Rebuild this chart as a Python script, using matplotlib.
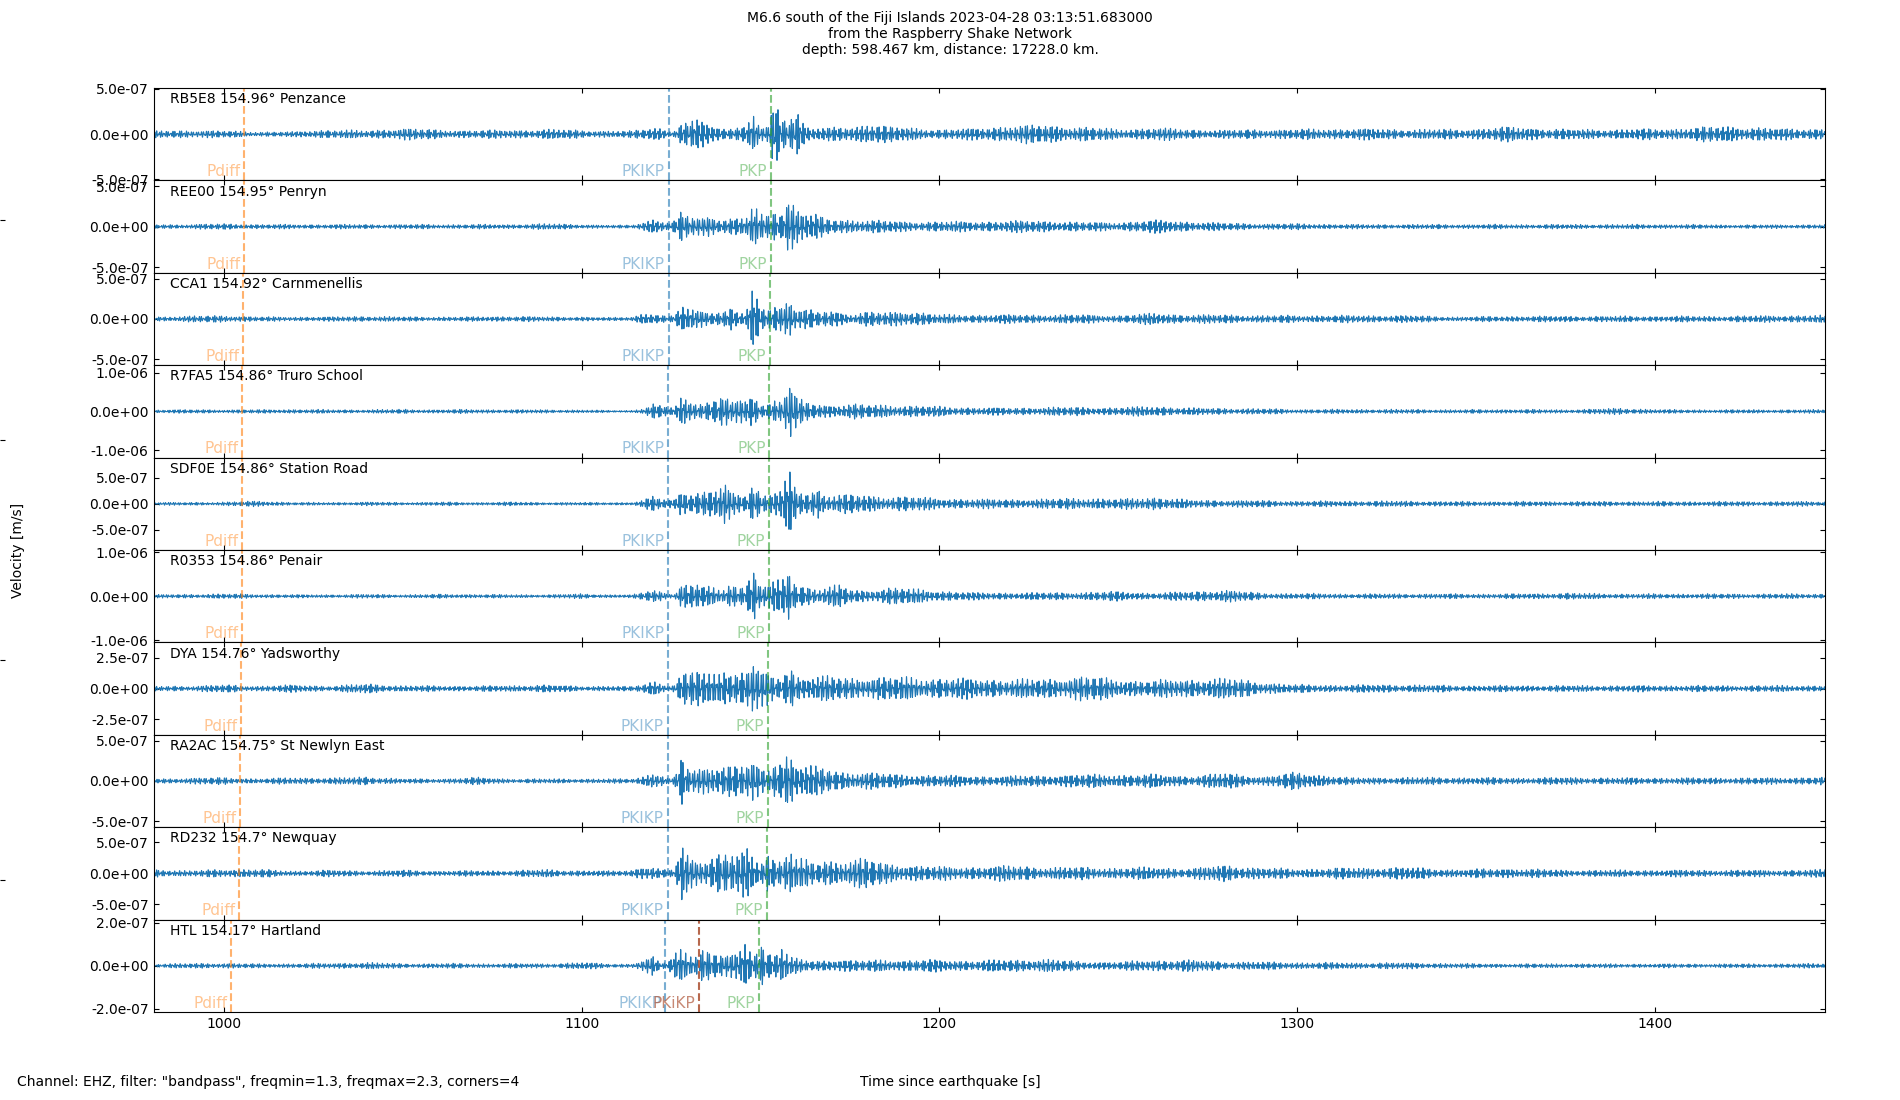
import numpy as np
import matplotlib as mpl
mpl.use('Agg')
import matplotlib.pyplot as plt
import matplotlib.transforms as mtransforms
from matplotlib.ticker import FormatStrFormatter

plt.rcParams['font.size'] = 10
plt.rcParams['xtick.direction'] = 'in'
plt.rcParams['ytick.direction'] = 'in'

title_text = ('M6.6 south of the Fiji Islands 2023-04-28 03:13:51.683000\n'
              'from the Raspberry Shake Network\n'
              'depth: 598.467 km, distance: 17228.0 km.')
filter_text = 'Channel: EHZ, filter: "bandpass", freqmin=1.3, freqmax=2.3, corners=4'

stations = ['RB5E8', 'REE00', 'CCA1', 'R7FA5', 'SDF0E',
            'R0353', 'DYA', 'RA2AC', 'RD232', 'HTL']
distances = ['154.96', '154.95', '154.92', '154.86', '154.86',
             '154.86', '154.76', '154.75', '154.7', '154.17']
places = ['Penzance', 'Penryn', 'Carnmenellis', 'Truro School', 'Station Road',
          'Penair', 'Yadsworthy', 'St Newlyn East', 'Newquay', 'Hartland']

# axis half-range and tick step per station [m/s]
vel_limits = [5.1e-7, 5.7e-7, 5.77e-7, 1.19e-6, 8.9e-7,
              1.05e-6, 3.76e-7, 5.75e-7, 7.43e-7, 2.15e-7]
tick_steps = [5e-7, 5e-7, 5e-7, 1e-6, 5e-7, 1e-6, 2.5e-7, 5e-7, 5e-7, 2e-7]

# predicted arrivals [s since origin]
pdiff_times = [1005.6, 1005.5, 1005.3, 1005.0, 1005.0, 1005.0, 1004.7, 1004.6, 1004.3, 1001.9]
pkikp_times = [1124.3, 1124.3, 1124.3, 1124.2, 1124.2, 1124.1, 1124.0, 1124.0, 1124.0, 1123.2]
pkp_times = [1152.9, 1152.8, 1152.6, 1152.4, 1152.3, 1152.3, 1152.1, 1152.0, 1151.8, 1149.6]
pkikp_small_times = [None, None, None, None, None, None, None, None, None, 1132.8]

t_start, t_end = 980.3, 1447.6

# envelope knots [s] and envelope amplitudes [1e-8 m/s]
knot_times = [980, 990, 1000, 1010, 1020, 1030, 1040, 1050, 1060, 1070, 1080, 1090, 1100,
              1108, 1114, 1117,
              1120, 1122, 1124, 1126, 1128, 1130, 1132, 1134, 1136, 1138, 1140, 1142, 1144,
              1146, 1148, 1150, 1152, 1154, 1156, 1158, 1160, 1162, 1164, 1166, 1168,
              1172, 1176, 1180, 1185, 1190,
              1200, 1210, 1220, 1230, 1240, 1250, 1260, 1270, 1280, 1290, 1300,
              1315, 1330, 1345, 1360, 1375, 1390, 1405, 1420, 1435, 1450]

env_RB5E8 = [4, 5, 4, 3, 3, 6, 4, 8, 5, 5, 5, 6, 5,
             4, 4, 6,
             9, 8, 4, 5, 15, 12, 19, 19, 10, 8, 8, 10, 10,
             9, 25, 9, 9, 39, 23, 23, 34, 15, 8, 8, 7,
             9, 8, 15, 10, 8,
             6, 7, 11, 11, 9, 6, 8, 6, 5, 6, 6,
             7, 6, 6, 9, 6, 6, 7, 10, 7, 7]
env_REE00 = [3, 3, 4, 3, 3, 3, 3, 3, 3, 3, 3, 4, 3,
             2, 2, 6,
             11, 9, 6, 8, 20, 14, 14, 13, 16, 12, 12, 12, 11,
             12, 32, 16, 16, 27, 22, 43, 29, 22, 16, 16, 11,
             10, 10, 9, 8, 7,
             7, 7, 8, 8, 6, 6, 9, 7, 5, 4, 4,
             3, 3, 3, 3, 3, 3, 3, 2.5, 2.5, 3]
env_CCA1 = [3, 4, 5, 3, 3, 3, 4, 3, 3, 3, 4, 3, 3,
            2, 3, 8,
            8, 6, 3, 5, 21, 15, 13, 15, 12, 10, 10, 17, 8,
            9, 43, 19, 19, 21, 18, 32, 13, 13, 12, 10, 13,
            11, 6, 10, 9, 12,
            6, 6, 6, 6, 6, 5, 8, 6, 6, 5, 5,
            5, 5, 3, 4, 4, 4, 4, 4, 5, 5]
env_R7FA5 = [5, 5, 5, 5, 6, 5, 5, 6, 5, 6, 5, 5, 4,
             3, 3, 8,
             21, 15, 13, 13, 48, 30, 30, 32, 28, 30, 52, 30, 34,
             30, 66, 22, 22, 34, 34, 86, 40, 30, 28, 22, 20,
             19, 21, 19, 19, 17,
             14, 11, 10, 12, 12, 11, 15, 10, 9, 8, 6,
             6, 6, 5, 6, 5, 9, 5, 5, 5, 5]
env_SDF0E = [3, 3, 4, 6, 3, 3, 4, 3, 4, 3, 4, 3, 3,
             3, 3, 7,
             16, 12, 10, 10, 35, 26, 26, 24, 27, 30, 47, 25, 23,
             24, 56, 19, 19, 29, 29, 67, 32, 28, 25, 38, 20,
             19, 20, 18, 16, 16,
             12, 10, 10, 10, 13, 10, 15, 8, 8, 7, 6,
             6, 6, 5, 5, 5, 5, 5, 5, 5, 5]
env_R0353 = [4, 5, 6, 5, 4, 4, 5, 4, 5, 5, 4, 4, 6,
             4, 4, 8,
             19, 14, 6, 6, 45, 27, 27, 27, 30, 15, 15, 46, 30,
             30, 70, 30, 30, 38, 38, 77, 34, 27, 25, 19, 22,
             28, 16, 15, 22, 20,
             14, 9, 9, 9, 10, 12, 8, 12, 16, 8, 7,
             6, 6, 6, 6, 8, 6, 6, 6, 6, 6]
env_DYA = [2.2, 2.4, 3.4, 2.4, 3.4, 2.4, 4.4, 2.6, 2.6, 2.4, 2.8, 3.4, 2.2,
           2.4, 1.8, 4,
           7.5, 5, 3, 4, 13.5, 13, 19.6, 15, 13, 15, 24, 15, 14,
           16, 26, 16, 14, 10, 12, 25, 12, 11, 11, 10.5, 11,
           11, 10, 11, 10, 10.5,
           9.5, 9, 8.5, 8.5, 12, 8, 7.5, 8.5, 9.5, 6, 3.5,
           3.4, 3.6, 2.8, 2.8, 2.8, 2.8, 2.8, 2.8, 2.8, 2.8]
env_RA2AC = [3, 4, 5, 3, 5, 4, 6, 3, 3, 5, 3, 3, 3,
             3, 3, 6,
             12.5, 10, 4, 5, 35, 17, 16, 20, 23, 23, 23, 22, 23,
             22, 26, 17, 17, 32, 28, 44, 25, 21, 20, 19, 19,
             13, 13, 12, 10, 9,
             8, 7, 7, 8, 9, 9, 9, 7, 11, 6, 12,
             4.5, 5, 5, 4.5, 5, 4.5, 4.5, 4.5, 4.5, 6]
env_RD232 = [8, 4.5, 8, 7, 4.5, 6, 4.5, 6, 4.5, 5, 5, 7, 5,
             4.5, 6, 13,
             12, 7, 6, 7, 57, 30, 27, 27, 32, 35, 35, 35, 35,
             46, 28, 22, 45, 24, 24, 51, 26, 24, 22, 19, 25,
             22, 27, 26, 18, 16,
             12, 12, 14, 11, 11, 10, 11, 9, 15, 10, 8,
             10, 11, 7, 9, 6, 6, 6, 6, 6, 7]
env_HTL = [1, 1.2, 1.4, 1, 1.2, 1.3, 1.8, 1.1, 1.3, 1.1, 1.2, 1.1, 1.8,
           1, 1, 3,
           4.7, 1.4, 2, 7, 9.6, 7, 7, 10.3, 6.2, 6, 6.2, 6, 6.5,
           15.3, 7, 13, 7, 7, 10.3, 4, 3.9, 3.5, 2.8, 2.8, 3,
           3.4, 2.6, 2.8, 3.5, 2.8,
           3.2, 2.6, 3.2, 3.4, 2.2, 2, 3, 3, 2.2, 2, 1.8,
           1.6, 1.6, 1.2, 1, 1.1, 1, 1, 1, 1.1, 1.2]

envelopes = [env_RB5E8, env_REE00, env_CCA1, env_R7FA5, env_SDF0E,
             env_R0353, env_DYA, env_RA2AC, env_RD232, env_HTL]


def make_trace(envelope, k):
    """Band-limited wiggle (1.3-2.3 Hz band) scaled by the read envelope."""
    t = np.arange(t_start, t_end, 0.01)
    env = np.interp(t, knot_times, envelope) * 1e-8
    w1 = 1.5 * np.sin(2 * np.pi * 0.07 * t + k)
    w2 = 1.2 * np.sin(2 * np.pi * 0.047 * t + 2.3 * k)
    wig = 0.55 * np.sin(2 * np.pi * 1.52 * t + w1) + 0.45 * np.sin(2 * np.pi * 2.17 * t + w2)
    burst = np.sin(2 * np.pi * 0.09 * t + 1.7 * k) * np.sin(2 * np.pi * 0.037 * t + 0.6 * k)
    return t, env * (0.78 + 0.22 * burst) * wig


fig = plt.figure(figsize=(19, 11), dpi=100)

# full-figure frame, only its left ticks show
bg = fig.add_axes([0, 0, 1, 1], frameon=False)
bg.set_xticks([])
bg.set_yticks([0.2, 0.4, 0.6, 0.8])
bg.tick_params(axis='y', labelleft=False)
bg.set_xlim(0, 1)
bg.set_ylim(0, 1)

axes = fig.subplots(len(stations), 1, sharex=True, gridspec_kw=dict(hspace=0))
fig.subplots_adjust(left=0.0808, right=0.9605, top=0.92, bottom=0.08)

phase_styles = [('Pdiff', pdiff_times, 'C1'),
                ('PKIKP', pkikp_times, 'C0'),
                ('PKiKP', pkikp_small_times, '#b0573a'),
                ('PKP', pkp_times, 'C2')]

for i, ax in enumerate(axes):
    t, tr = make_trace(envelopes[i], i)
    ax.plot(t, tr, color='C0', lw=0.8)
    lim = vel_limits[i]
    ax.set_ylim(-lim, lim)
    ax.set_yticks([-tick_steps[i], 0, tick_steps[i]])
    ax.yaxis.set_major_formatter(FormatStrFormatter('%.1e'))
    ax.tick_params(top=True, right=True)
    ax.text(0.01, 0.955, f'{stations[i]} {distances[i]}\u00b0 {places[i]}',
            transform=ax.transAxes, va='top', ha='left')
    trans = mtransforms.blended_transform_factory(ax.transData, ax.transAxes)
    for name, times, col in phase_styles:
        tp = times[i]
        if tp is None:
            continue
        line_alpha = 0.9 if name == 'PKiKP' else 0.6
        text_alpha = 0.7 if name == 'PKiKP' else 0.45
        ax.axvline(tp, color=col, ls='--', lw=1.5, alpha=line_alpha)
        ax.text(tp - 1.0, 0.045, name, color=col, alpha=text_alpha, fontsize=11,
                ha='right', va='baseline', transform=trans)

axes[-1].set_xlim(t_start, t_end)
axes[-1].set_xticks([1000, 1100, 1200, 1300, 1400])

fig.suptitle(title_text, y=0.99, va='top', fontsize=10)
fig.text(0.0095, 0.5, 'Velocity [m/s]', rotation=90, ha='center', va='center')
fig.text(0.5, 0.016, 'Time since earthquake [s]', ha='center', va='center')
fig.text(0.009, 0.016, filter_text, ha='left', va='center')

fig.savefig('out.png', dpi=100)
